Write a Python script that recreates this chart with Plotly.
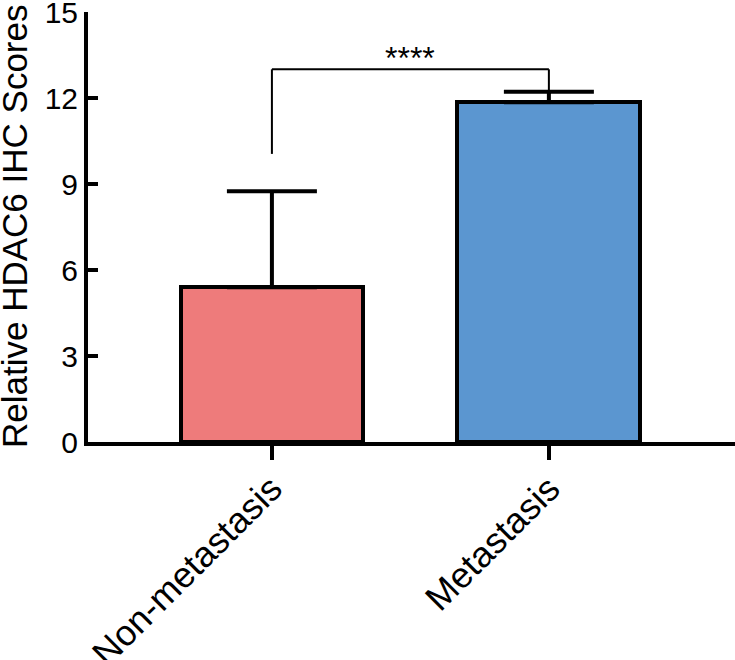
import plotly.graph_objects as go

# ---- data ----
categories = ["Non-metastasis", "Metastasis"]
means = [5.4, 11.85]
errors_up = [3.35, 0.37]
bar_colors = ["#EE7B7B", "#5B96D0"]
y_ticks = [0, 3, 6, 9, 12, 15]
sig_label = "****"
y_title = "Relative HDAC6 IHC Scores"

FONT = "Liberation Sans, Arial, Helvetica, sans-serif"
xpos = list(range(len(categories)))

fig = go.Figure()
fig.add_trace(go.Bar(
    x=xpos,
    y=means,
    width=0.66,
    marker=dict(color=bar_colors, line=dict(color="black", width=4)),
    error_y=dict(type="data", symmetric=False, array=errors_up,
                 arrayminus=[0] * len(means), color="black", thickness=4, width=45),
    showlegend=False,
    hoverinfo="skip",
))

# significance bracket built from the data
tops = [m + e for m, e in zip(means, errors_up)]
br_top = 13.0
left_end = means[0] + errors_up[0] + 1.3
right_end = tops[1]
fig.add_shape(type="line", x0=0, x1=0, y0=left_end, y1=br_top,
              line=dict(color="black", width=2))
fig.add_shape(type="line", x0=0, x1=1, y0=br_top, y1=br_top,
              line=dict(color="black", width=2))
fig.add_shape(type="line", x0=1, x1=1, y0=br_top, y1=right_end,
              line=dict(color="black", width=2))
fig.add_annotation(x=0.5, y=br_top, text=sig_label, showarrow=False,
                   yanchor="bottom", yshift=-9,
                   font=dict(family=FONT, size=32, color="black"))

# y-axis title as a rotated annotation (placed freely in the left margin)
fig.add_annotation(xref="paper", yref="paper", x=0, y=0.5, xanchor="center",
                   yanchor="middle", xshift=-74, text=y_title, textangle=-90,
                   showarrow=False,
                   font=dict(family=FONT, size=35, color="black"))

# category labels, rotated, anchored at each category position on the x scale
for xv, lab in zip(xpos, categories):
    fig.add_annotation(x=xv, xref="x", y=0, yref="paper", text=lab,
                       textangle=-45, showarrow=False,
                       xanchor="right", yanchor="top", xshift=21, yshift=-23,
                       font=dict(family=FONT, size=36, color="black"))

fig.update_layout(
    width=735, height=660,
    margin=dict(l=88, r=0, t=12, b=218),
    plot_bgcolor="white", paper_bgcolor="white",
    font=dict(family=FONT, color="black"),
    bargap=0,
    modebar=dict(bgcolor="rgba(0,0,0,0)", color="rgba(0,0,0,0)",
                 activecolor="rgba(0,0,0,0)"),
)
fig.update_xaxes(
    range=[-0.664, 1.672],
    tickvals=xpos, showticklabels=False,
    showline=True, linecolor="black", linewidth=4,
    ticks="outside", ticklen=14, tickwidth=4, tickcolor="black",
    showgrid=False, zeroline=False, automargin=False,
)
fig.update_yaxes(
    range=[0, 15],
    tickvals=y_ticks,
    tickfont=dict(size=30, family=FONT, color="black"),
    showline=True, linecolor="black", linewidth=4,
    ticks="inside", ticklen=10, tickwidth=4, tickcolor="black",
    showgrid=False, zeroline=False, automargin=False,
    ticklabeloverflow="allow",
)

fig.write_html(
    "out.html",
    config={"displayModeBar": False},
    post_script=(
        "document.body.style.margin='0';"
        "document.body.style.overflow='hidden';"
        "document.documentElement.style.overflow='hidden';"
    ),
)
